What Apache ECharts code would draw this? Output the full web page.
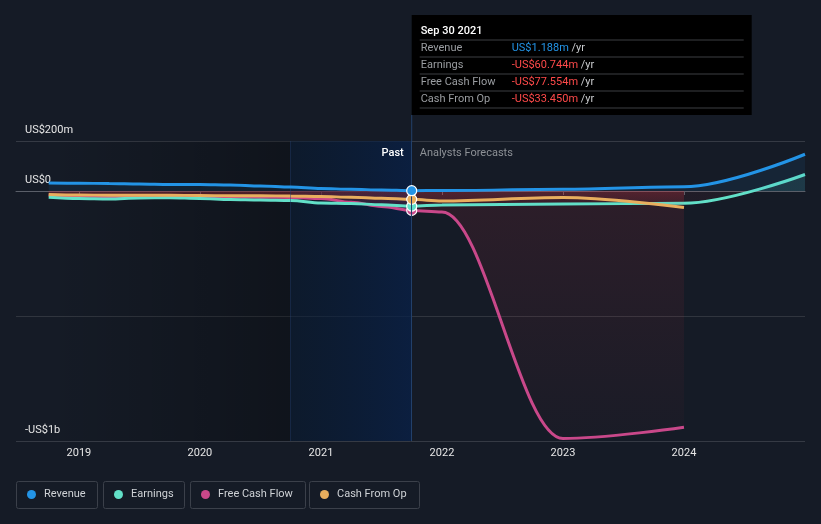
<!DOCTYPE html>
<html><head><meta charset="utf-8">
<script src="https://cdn.jsdelivr.net/npm/echarts@6/dist/echarts.min.js"></script>
<style>html,body{margin:0;padding:0;background:#151b26;}#c{width:821px;height:524px;}</style>
</head><body><div id="c"></div>
<script>
// ---- data (US$ millions) ----
const seriesNames = ['Revenue', 'Earnings', 'Free Cash Flow', 'Cash From Op'];
const pastDates = [2018.75, 2019.0, 2019.25, 2019.5, 2019.75, 2020.0, 2020.25, 2020.5, 2020.75, 2021.0, 2021.25, 2021.5, 2021.75];
const revenuePast  = [32, 31, 30, 28, 26, 26, 24, 20, 16, 10, 7, 4, 1.188];
const earningsPast = [-25, -30, -32, -28, -27, -30, -34, -36, -38, -48, -50, -55, -60.744];
const fcfPast      = [-18, -20, -22, -22, -22, -24, -24, -25, -26, -30, -45, -62, -77.554];
const cfoPast      = [-14, -16, -17, -17, -17, -18, -19, -19, -20, -22, -25, -29, -33.45];
const revForecastDates = [2022, 2023, 2024, 2025];
const revenueForecast  = [2, 7, 17, 147];
const earningsForecast = [-56, -52, -49, 66];
const cashForecastDates = [2022, 2023, 2024];
const fcfForecast = [-84, -990, -945];
const cfoForecast = [-40, -26, -66];
const xTickValues = [2019, 2020, 2021, 2022, 2023, 2024];
const xTickLabels = ['2019', '2020', '2021', '2022', '2023', '2024'];
const yTickLabels = {'200': 'US$200m', '0': 'US$0', '-1000': '-US$1b'};
const tooltipTitle = 'Sep 30 2021';
const pastHighlightStart = 2020.75;
const colors = ['#2394e6', '#62e0c8', '#c9488a', '#e8ae5e'];

const chart = echarts.init(document.getElementById('c'), null, {renderer: 'canvas'});
const lastIdx = pastDates.length - 1;
const FS = 11;

function build(dates, vals, fdates, fvals) {
  const d = dates.map((x, i) => i === lastIdx
    ? {value: [x, vals[i]], symbol: 'circle', symbolSize: 10}
    : [x, vals[i]]);
  fdates.forEach((x, i) => d.push([x, fvals[i]]));
  return d;
}
const G = echarts.graphic.LinearGradient;
const redFill = new G(0, 191, 0, 441, [
  {offset: 0, color: 'rgba(225,50,65,0.32)'},
  {offset: 0.05, color: 'rgba(225,50,65,0.16)'},
  {offset: 1, color: 'rgba(225,50,65,0.03)'}], true);
const smallRed = 'rgba(225,50,65,0.08)';
const earnFill = new G(0, 0, 0, 524, [
  {offset: 0, color: 'rgba(98,224,200,0.16)'},
  {offset: 191/524, color: 'rgba(98,224,200,0.16)'},
  {offset: 191/524, color: smallRed},
  {offset: 1, color: smallRed}], true);

function lineSeries(name, idx, data, fill, z) {
  return {
    name, type: 'line', data, smooth: 0.35, smoothMonotone: 'x', symbol: 'none', showSymbol: true, z,
    lineStyle: {color: colors[idx], width: 3},
    itemStyle: {color: colors[idx], borderColor: '#ffffff', borderWidth: 1.2},
    areaStyle: {color: fill},
    emphasis: {disabled: true}
  };
}

const legendBoxes = [[16, 81], [103, 81], [190, 115], [309, 110]];

const option = {
  backgroundColor: '#151b26',
  animation: false,
  textStyle: {fontFamily: 'Roboto'},
  grid: {left: 16, right: 16, top: 141, bottom: 83, containLabel: false},
  xAxis: {
    type: 'value', min: 2018.48, max: 2025.0,
    axisLine: {lineStyle: {color: '#5a5f69', width: 1}},
    axisTick: {show: true, customValues: xTickValues, length: 4, lineStyle: {color: '#5a5f69'}},
    axisLabel: {customValues: xTickValues, color: '#e6e6e6', fontSize: FS, margin: 7,
      formatter: v => xTickLabels[xTickValues.indexOf(Math.round(v))] || ''},
    splitLine: {show: false}
  },
  yAxis: {
    type: 'value', min: -1000, max: 200, interval: 500,
    axisLine: {show: false}, axisTick: {show: false},
    axisLabel: {inside: true, margin: 9, color: '#e6e6e6', fontSize: FS,
      verticalAlign: 'bottom', padding: [0, 0, 5, 0],
      formatter: v => yTickLabels[String(v)] || ''},
    splitLine: {show: true, lineStyle: {color: ['#353a44', '#30353e', '#ffffff', '#353a44'], width: 1}}
  },
  legend: seriesNames.map((n, i) => ({
    data: [n], left: legendBoxes[i][0] + 11, top: 489, icon: 'circle', padding: 0,
    itemWidth: 9, itemHeight: 9, selectedMode: false,
    itemStyle: {borderWidth: 0},
    textStyle: {color: '#cfd2d6', fontSize: FS, padding: [0, 0, 0, 3]}
  })),
  series: [
    {
      name: 'bg', type: 'line', data: [], z: 0, silent: true,
      markArea: {silent: true, data: [
        [{xAxis: pastDates[0], itemStyle: {color: new G(0, 0, 1, 0, [
          {offset: 0, color: 'rgba(0,0,0,0)'}, {offset: 1, color: 'rgba(0,0,0,0.28)'}])}}, {xAxis: pastHighlightStart}],
        [{xAxis: pastHighlightStart, itemStyle: {color: new G(0, 0, 1, 0, [
          {offset: 0, color: 'rgba(5,25,50,0.5)'}, {offset: 1, color: 'rgba(8,32,72,0.75)'}])}},
         {xAxis: pastDates[lastIdx]}]
      ]},
      markLine: {silent: true, symbol: 'none', label: {show: false},
        data: [
          {xAxis: pastDates[lastIdx], lineStyle: {color: '#22406a', type: 'solid', width: 1}},
          {xAxis: pastHighlightStart, lineStyle: {color: 'rgba(30,60,110,0.45)', type: 'solid', width: 1}}
        ]}
    },
    lineSeries(seriesNames[2], 2, build(pastDates, fcfPast, cashForecastDates, fcfForecast), redFill, 2),
    lineSeries(seriesNames[1], 1, build(pastDates, earningsPast, revForecastDates, earningsForecast), earnFill, 3),
    lineSeries(seriesNames[3], 3, build(pastDates, cfoPast, cashForecastDates, cfoForecast), smallRed, 4),
    lineSeries(seriesNames[0], 0, build(pastDates, revenuePast, revForecastDates, revenueForecast), 'rgba(35,148,230,0.12)', 5)
  ]
};
chart.setOption(option);

// overlays positioned from the axes
const lineX = chart.convertToPixel({xAxisIndex: 0}, pastDates[lastIdx]);
const gridTop = chart.convertToPixel({yAxisIndex: 0}, 200);
function fmt(v) {
  const s = 'US$' + Math.abs(v).toFixed(3) + 'm';
  return v < 0 ? '-' + s : s;
}
const font = w => (w ? w + ' ' : '') + FS + 'px Roboto';
const lastVals = [revenuePast[lastIdx], earningsPast[lastIdx], fcfPast[lastIdx], cfoPast[lastIdx]];
const tipLeft = lineX, tipTop = 15, tipW = 340, tipH = 100;
const graphics = [
  {type: 'line', z: 100, shape: {x1: lineX, y1: tipTop + tipH, x2: lineX, y2: gridTop}, style: {stroke: '#22406a', lineWidth: 1}, silent: true},
  {type: 'rect', z: 100, shape: {x: tipLeft, y: tipTop, width: tipW, height: tipH}, style: {fill: '#000000'}, silent: true},
  {type: 'text', z: 101, x: tipLeft + 9, y: tipTop + 16, style: {text: tooltipTitle, fill: '#ffffff', font: font('500'), verticalAlign: 'middle'}},
  {type: 'text', z: 101, x: lineX - 8, y: 153, style: {text: 'Past', fill: '#ffffff', font: font('500'), align: 'right', verticalAlign: 'middle'}},
  {type: 'text', z: 101, x: lineX + 8, y: 153, style: {text: 'Analysts Forecasts', fill: '#8d9196', font: font(), align: 'left', verticalAlign: 'middle'}}
];
const sepY = [40, 57, 74, 91, 108];
sepY.forEach(y => graphics.push({type: 'line', z: 101, shape: {x1: tipLeft + 8, y1: y, x2: tipLeft + 332, y2: y}, style: {stroke: '#3d3f43', lineWidth: 1}, silent: true}));
seriesNames.forEach((n, i) => {
  const cy = 48.5 + i * 17;
  graphics.push({type: 'text', z: 101, x: tipLeft + 9, y: cy, style: {text: n, fill: '#9a9da1', font: font(), verticalAlign: 'middle'}});
  graphics.push({type: 'text', z: 101, x: tipLeft + 100, y: cy, style: {
    text: '{v|' + fmt(lastVals[i]) + '} {u|/yr}', verticalAlign: 'middle', font: font(),
    rich: {v: {fill: lastVals[i] < 0 ? '#ff4a4a' : '#2394e6', font: font()}, u: {fill: '#c9cbce', font: font()}}}});
});
legendBoxes.forEach(b => graphics.push({type: 'rect', z: 100, shape: {x: b[0] + 0.5, y: 481.5, width: b[1], height: 27, r: 2},
  style: {fill: 'none', stroke: '#3b404a', lineWidth: 1}, silent: true}));
chart.setOption({graphic: graphics});
</script></body></html>
